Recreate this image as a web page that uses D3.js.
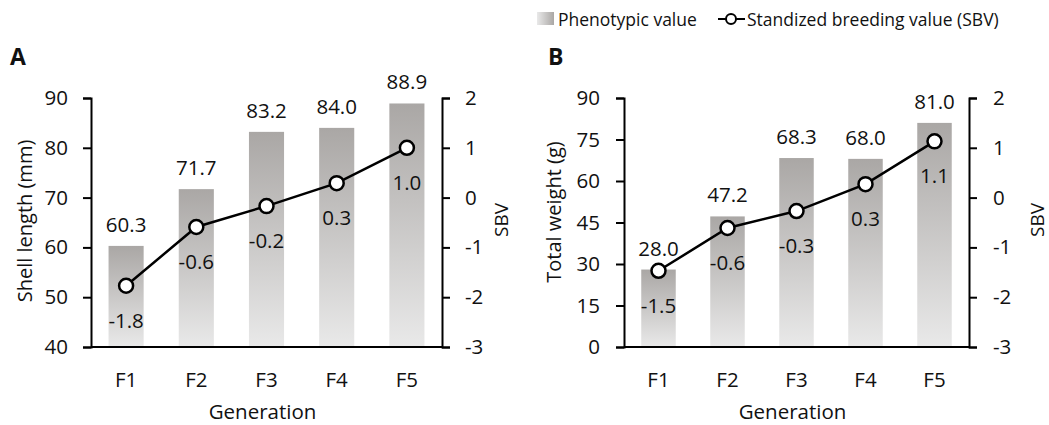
<!DOCTYPE html>
<html>
<head>
<meta charset="utf-8">
<script src="https://cdn.jsdelivr.net/npm/d3@7"></script>
<style>
  body { margin: 0; background: #fff; }
  text { font-family: "Open Sans", "Noto Sans", sans-serif; fill: #111; }
</style>
</head>
<body>
<div id="chart"></div>
<script>
var svgWidth = 1049;
var svgHeight = 425;

// data
var generations = ["F1", "F2", "F3", "F4", "F5"];
var shellLength = [60.3, 71.7, 83.2, 84.0, 88.9];
var shellSBV = [-1.77, -0.59, -0.17, 0.29, 1.0];
var totalWeight = [28.0, 47.2, 68.3, 68.0, 81.0];
var weightSBV = [-1.47, -0.61, -0.27, 0.27, 1.13];
var shellTicks = [40, 50, 60, 70, 80, 90];
var weightTicks = [0, 15, 30, 45, 60, 75, 90];
var sbvTicks = [-3, -2, -1, 0, 1, 2];

var fontSize = "20.5px";

var svg = d3.select("#chart")
    .append("svg")
    .attr("width", svgWidth)
    .attr("height", svgHeight);

var defs = svg.append("defs");
var barGrad = defs.append("linearGradient")
    .attr("id", "barGrad")
    .attr("x1", 0).attr("y1", 0).attr("x2", 0).attr("y2", 1);
barGrad.append("stop").attr("offset", "0%").attr("stop-color", "#aaa7a5");
barGrad.append("stop").attr("offset", "100%").attr("stop-color", "#e9e9e9");

var legGrad = defs.append("linearGradient")
    .attr("id", "legGrad")
    .attr("x1", 0).attr("y1", 0).attr("x2", 1).attr("y2", 0);
legGrad.append("stop").attr("offset", "0%").attr("stop-color", "#e9e9e9");
legGrad.append("stop").attr("offset", "100%").attr("stop-color", "#aaa7a5");

var plotTop = 98, plotBottom = 347;

// plain hyphen for negatives, like the original
var plainNum = d => String(d);

function drawPanel(cfg) {
    var g = svg.append("g");

    var x = d3.scaleBand()
        .domain(generations)
        .range([cfg.left, cfg.right])
        .paddingInner(0.5)
        .paddingOuter(0.25);

    var y = d3.scaleLinear()
        .domain([cfg.ticks[0], cfg.ticks[cfg.ticks.length - 1]])
        .range([plotBottom, plotTop]);

    var y2 = d3.scaleLinear()
        .domain([sbvTicks[0], sbvTicks[sbvTicks.length - 1]])
        .range([plotBottom, plotTop]);

    // bars
    g.selectAll("rect.bar")
        .data(cfg.values)
        .enter().append("rect")
        .attr("class", "bar")
        .attr("x", (d, i) => x(generations[i]))
        .attr("y", d => y(d))
        .attr("width", x.bandwidth())
        .attr("height", d => plotBottom - y(d))
        .attr("fill", "url(#barGrad)");

    // bar labels
    g.selectAll("text.barLabel")
        .data(cfg.values)
        .enter().append("text")
        .attr("class", "barLabel")
        .attr("x", (d, i) => x(generations[i]) + x.bandwidth() / 2)
        .attr("y", d => y(d) - 14)
        .attr("text-anchor", "middle")
        .style("font-size", fontSize)
        .text(d => d.toFixed(1));

    // axes
    var leftAxis = d3.axisLeft(y).tickValues(cfg.ticks).tickSize(8).tickPadding(cfg.pad)
        .tickFormat(plainNum);
    var rightAxis = d3.axisRight(y2).tickValues(sbvTicks).tickSize(8).tickPadding(cfg.pad)
        .tickFormat(plainNum);

    var la = g.append("g")
        .attr("transform", `translate(${cfg.left},0)`)
        .call(leftAxis);
    var ra = g.append("g")
        .attr("transform", `translate(${cfg.right},0)`)
        .call(rightAxis);
    [la, ra].forEach(function(a) {
        a.select(".domain").attr("stroke", "#000").attr("stroke-width", 2);
        a.selectAll(".tick line").attr("stroke", "#000").attr("stroke-width", 2);
        a.selectAll(".tick text")
            .style("font-size", fontSize)
            .style("font-family", "'Open Sans', sans-serif")
            .attr("fill", "#111");
    });

    g.append("line")
        .attr("x1", cfg.left).attr("x2", cfg.right)
        .attr("y1", plotBottom).attr("y2", plotBottom)
        .attr("stroke", "#000").attr("stroke-width", 2);

    // x labels
    g.selectAll("text.xLabel")
        .data(generations)
        .enter().append("text")
        .attr("class", "xLabel")
        .attr("x", d => x(d) + x.bandwidth() / 2)
        .attr("y", 387)
        .attr("text-anchor", "middle")
        .style("font-size", fontSize)
        .text(d => d);

    // SBV line
    var line = d3.line()
        .x((d, i) => x(generations[i]) + x.bandwidth() / 2)
        .y(d => y2(d));

    g.append("path")
        .datum(cfg.sbv)
        .attr("d", line)
        .attr("fill", "none")
        .attr("stroke", "#000")
        .attr("stroke-width", 2.5);

    g.selectAll("circle")
        .data(cfg.sbv)
        .enter().append("circle")
        .attr("cx", (d, i) => x(generations[i]) + x.bandwidth() / 2)
        .attr("cy", d => y2(d))
        .attr("r", 7)
        .attr("fill", "#fff")
        .attr("stroke", "#000")
        .attr("stroke-width", 2.5);

    g.selectAll("text.sbvLabel")
        .data(cfg.sbv)
        .enter().append("text")
        .attr("class", "sbvLabel")
        .attr("x", (d, i) => x(generations[i]) + x.bandwidth() / 2)
        .attr("y", d => y2(d) + 42)
        .attr("text-anchor", "middle")
        .style("font-size", fontSize)
        .text(d => d.toFixed(1));

    // titles
    g.append("text")
        .attr("transform", `translate(${cfg.yTitleX},${cfg.yTitleY}) rotate(-90)`)
        .attr("dy", "0.35em")
        .attr("text-anchor", "middle")
        .style("font-size", "20px")
        .text(cfg.yTitle);

    g.append("text")
        .attr("transform", `translate(${cfg.sbvTitleX},220) rotate(-90)`)
        .attr("dy", "0.35em")
        .attr("text-anchor", "middle")
        .style("font-size", "19px")
        .text("SBV");

    g.append("text")
        .attr("x", (cfg.left + cfg.right) / 2 - 4)
        .attr("y", 419)
        .attr("text-anchor", "middle")
        .style("font-size", fontSize)
        .text("Generation");

    g.append("text")
        .attr("x", cfg.letterX)
        .attr("y", 65)
        .style("font-size", "23px")
        .style("font-weight", "bold")
        .attr("fill", "#000")
        .text(cfg.letter);
}

drawPanel({
    left: 91, right: 442, ticks: shellTicks, values: shellLength, sbv: shellSBV,
    pad: 15, yTitle: "Shell length (mm)", yTitleX: 25, yTitleY: 221,
    sbvTitleX: 501, letter: "A", letterX: 10
});

drawPanel({
    left: 624, right: 969, ticks: weightTicks, values: totalWeight, sbv: weightSBV,
    pad: 16, yTitle: "Total weight (g)", yTitleX: 554, yTitleY: 212,
    sbvTitleX: 1037, letter: "B", letterX: 548
});

// legend
var legend = svg.append("g");
legend.append("rect")
    .attr("x", 537).attr("y", 12)
    .attr("width", 17).attr("height", 13)
    .attr("fill", "url(#legGrad)");
legend.append("text")
    .attr("x", 558).attr("y", 26)
    .style("font-size", "17.5px")
    .text("Phenotypic value");
legend.append("line")
    .attr("x1", 718).attr("x2", 745)
    .attr("y1", 19).attr("y2", 19)
    .attr("stroke", "#000").attr("stroke-width", 2);
legend.append("circle")
    .attr("cx", 731).attr("cy", 19).attr("r", 5)
    .attr("fill", "#fff").attr("stroke", "#000").attr("stroke-width", 2);
legend.append("text")
    .attr("x", 747).attr("y", 26)
    .style("font-size", "17.5px")
    .text("Standized breeding value (SBV)");
</script>
</body>
</html>
